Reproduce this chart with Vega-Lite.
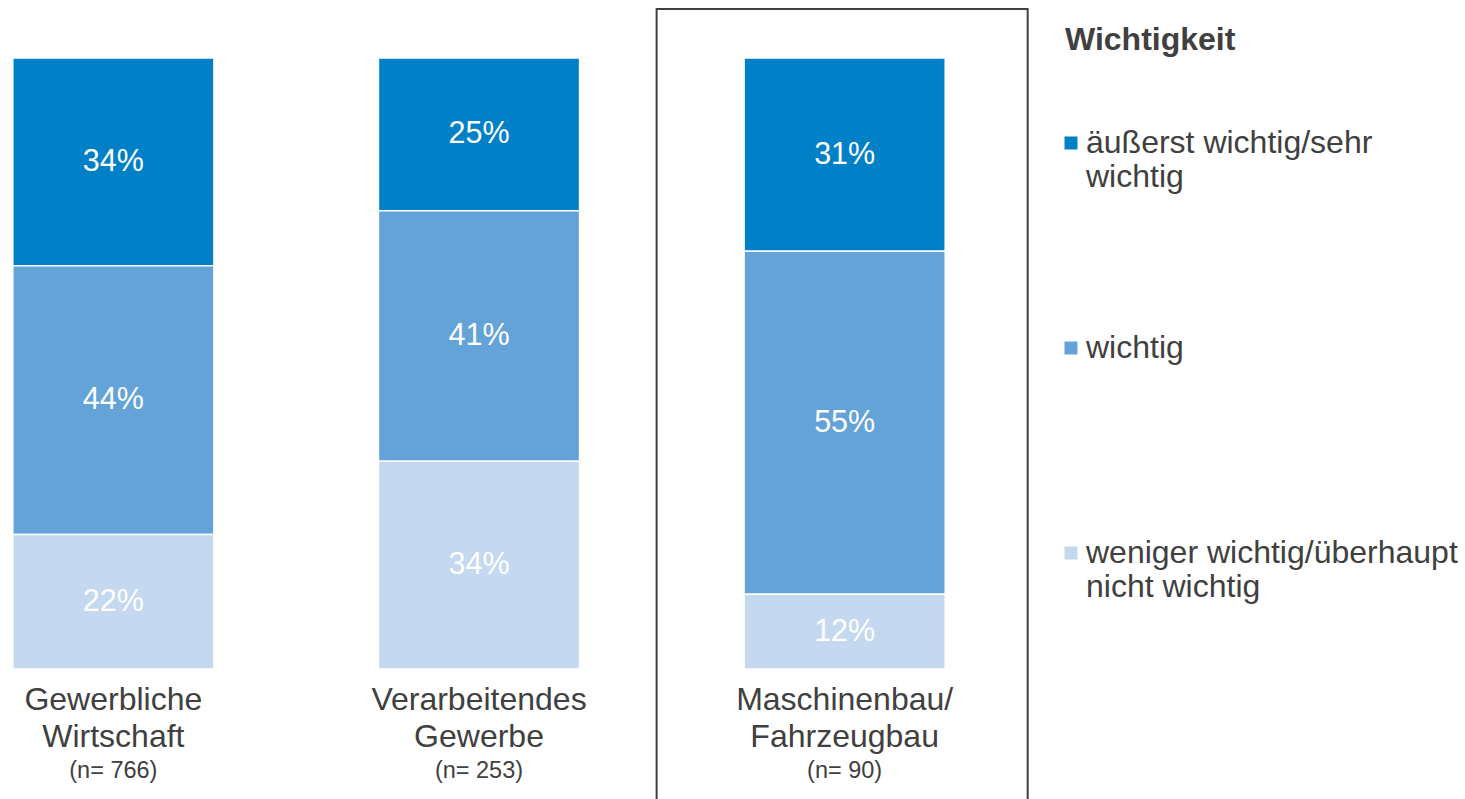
{
  "$schema": "https://vega.github.io/schema/vega-lite/v6.json",
  "width": 958,
  "height": 611,
  "autosize": {"type": "none"},
  "padding": {"left": 0, "top": 58, "right": 507, "bottom": 130},
  "background": "white",
  "config": {"view": {"stroke": null}, "font": "Liberation Sans"},
  "data": {
    "values": [
      {"cat": "Gewerbliche Wirtschaft", "level": "äußerst wichtig/sehr wichtig", "ord": 3, "pct": 0.34, "nlabel": "(n= 766)"},
      {"cat": "Gewerbliche Wirtschaft", "level": "wichtig", "ord": 2, "pct": 0.44, "nlabel": "(n= 766)"},
      {"cat": "Gewerbliche Wirtschaft", "level": "weniger wichtig/überhaupt nicht wichtig", "ord": 1, "pct": 0.22, "nlabel": "(n= 766)"},
      {"cat": "Verarbeitendes Gewerbe", "level": "äußerst wichtig/sehr wichtig", "ord": 3, "pct": 0.25, "nlabel": "(n= 253)"},
      {"cat": "Verarbeitendes Gewerbe", "level": "wichtig", "ord": 2, "pct": 0.41, "nlabel": "(n= 253)"},
      {"cat": "Verarbeitendes Gewerbe", "level": "weniger wichtig/überhaupt nicht wichtig", "ord": 1, "pct": 0.34, "nlabel": "(n= 253)"},
      {"cat": "Maschinenbau/Fahrzeugbau", "level": "äußerst wichtig/sehr wichtig", "ord": 3, "pct": 0.31, "nlabel": "(n= 90)"},
      {"cat": "Maschinenbau/Fahrzeugbau", "level": "wichtig", "ord": 2, "pct": 0.55, "nlabel": "(n= 90)"},
      {"cat": "Maschinenbau/Fahrzeugbau", "level": "weniger wichtig/überhaupt nicht wichtig", "ord": 1, "pct": 0.12, "nlabel": "(n= 90)"}
    ]
  },
  "encoding": {
    "x": {
      "field": "cat",
      "type": "nominal",
      "sort": null,
      "title": null,
      "scale": {"paddingInner": 0.45, "paddingOuter": 0.035},
      "axis": {
        "domain": false,
        "ticks": false,
        "tickSize": 0,
        "labelAngle": 0,
        "labelFontSize": 32,
        "labelColor": "#404040",
        "labelLineHeight": 37,
        "labelPadding": 15,
        "labelBaseline": "top",
        "labelLimit": 500,
        "labelExpr": "split(replace(datum.value, '/', '/ '), ' ')"
      }
    }
  },
  "layer": [
    {
      "mark": {"type": "bar", "stroke": "white", "strokeWidth": 1.5},
      "encoding": {
        "y": {
          "field": "pct",
          "type": "quantitative",
          "stack": "normalize",
          "scale": {"domain": [0, 1], "nice": false, "zero": false},
          "axis": null
        },
        "order": {"field": "ord", "type": "quantitative"},
        "color": {
          "field": "level",
          "type": "nominal",
          "sort": ["äußerst wichtig/sehr wichtig", "wichtig", "weniger wichtig/überhaupt nicht wichtig"],
          "scale": {
            "domain": ["äußerst wichtig/sehr wichtig", "wichtig", "weniger wichtig/überhaupt nicht wichtig"],
            "range": ["#0080C6", "#64A3D8", "#C4D8F0"]
          },
          "legend": {
            "orient": "none",
            "legendX": 1065,
            "legendY": -33,
            "title": "Wichtigkeit",
            "titleFontSize": 32,
            "titleFontWeight": "bold",
            "titleColor": "#404040",
            "titlePadding": 70,
            "labelFontSize": 32,
            "labelColor": "#404040",
            "labelLimit": 500,
            "labelOffset": -1,
            "labelBaseline": "middle",
            "symbolType": "square",
            "symbolSize": 169,
            "symbolStrokeWidth": 0,
            "symbolOffset": -10,
            "rowPadding": 139,
            "padding": 0,
            "labelExpr": "datum.label == 'äußerst wichtig/sehr wichtig' ? ['äußerst wichtig/sehr', 'wichtig'] : datum.label == 'weniger wichtig/überhaupt nicht wichtig' ? ['weniger wichtig/überhaupt', 'nicht wichtig'] : [datum.label, ' ']"
          }
        }
      }
    },
    {
      "mark": {"type": "text", "color": "white", "fontSize": 30.5, "baseline": "middle"},
      "encoding": {
        "y": {"field": "pct", "type": "quantitative", "stack": "normalize", "bandPosition": 0.5},
        "order": {"field": "ord", "type": "quantitative"},
        "detail": {"field": "level"},
        "text": {"field": "pct", "type": "quantitative", "format": ".0%"}
      }
    },
    {
      "transform": [{"filter": "datum.ord == 2"}],
      "mark": {"type": "text", "color": "#404040", "fontSize": 23.5, "baseline": "alphabetic"},
      "encoding": {
        "y": {"datum": -0.178},
        "text": {"field": "nlabel"}
      }
    },
    {
      "transform": [{"filter": "datum.ord == 2 && datum.cat == 'Maschinenbau/Fahrzeugbau'"}],
      "mark": {"type": "bar", "filled": false, "stroke": "#404040", "strokeWidth": 2, "width": {"band": 1.845}, "xOffset": -2.5},
      "encoding": {
        "y": {"datum": 1.0802},
        "y2": {"datum": -0.3}
      }
    }
  ]
}
